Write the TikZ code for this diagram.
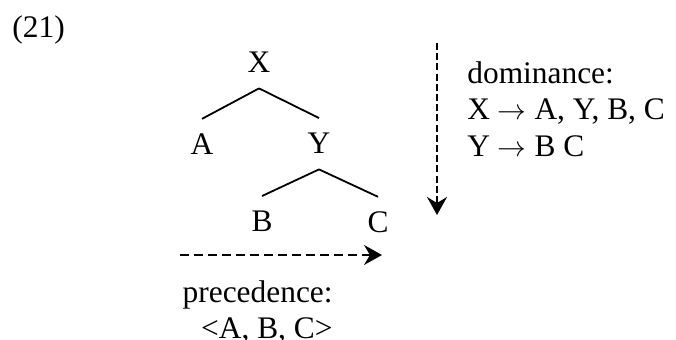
\documentclass[tikz,border=0pt]{standalone}
\usepackage{fontspec}
\setmainfont{Liberation Serif}
\usetikzlibrary{arrows.meta, positioning}

\begin{document}
\begin{tikzpicture}[
    x=0.5pt, y=-0.5pt,
    font=\fontsize{15.7}{18.25}\selectfont,
    cat/.style={anchor=base, inner xsep=2pt, inner ysep=7.5pt},
    branch/.style={line width=0.9pt},
    listing/.style={inner sep=0pt, align=#1},
    domarrow/.style={line width=0.9pt, dash pattern=on 3.5pt off 1.6pt,
                     -{Stealth[length=9pt, width=10pt, inset=3pt]}},
    prearrow/.style={line width=0.9pt, dash pattern=on 4.5pt off 2.5pt,
                     -{Stealth[length=9pt, width=10pt, inset=3pt]}}
]
    \useasboundingbox (0,0) rectangle (676,340);

    % Example number
    \node[anchor=base west, inner sep=0pt] (num) at (12,38) {(21)};

    % Tree nodes
    \node[cat] (X) at (259,73) {X};
    \node[cat] (A) at (202,155) {A};
    \node[cat] (Y) at (319,154) {Y};
    \node[cat] (B) at (262,232) {B};
    \node[cat] (C) at (378,233) {C};

    % Branches
    \draw[branch] (X.south) -- (A.north);
    \draw[branch] (X.south) -- (Y.north);
    \draw[branch] (Y.south) -- (B.north);
    \draw[branch] (Y.south) -- (C.north);

    % Dominance
    \coordinate (domtop) at (437,43);
    \coordinate (dombot) at (437,215);
    \draw[domarrow] (domtop) -- (dombot);
    \node[listing=left, anchor=north west] (dom) at (467,61) {
        dominance:\\
        X $\rightarrow$ A, Y, B, C\\
        Y $\rightarrow$ B C
    };

    % Precedence
    \coordinate (prestart) at (180,255);
    \coordinate (preend) at (382,255);
    \draw[prearrow] (prestart) -- (preend);
    \node[listing=right, anchor=north east] (prec) at (333,280) {
        precedence:\\
        <A, B, C>
    };
\end{tikzpicture}
\end{document}
